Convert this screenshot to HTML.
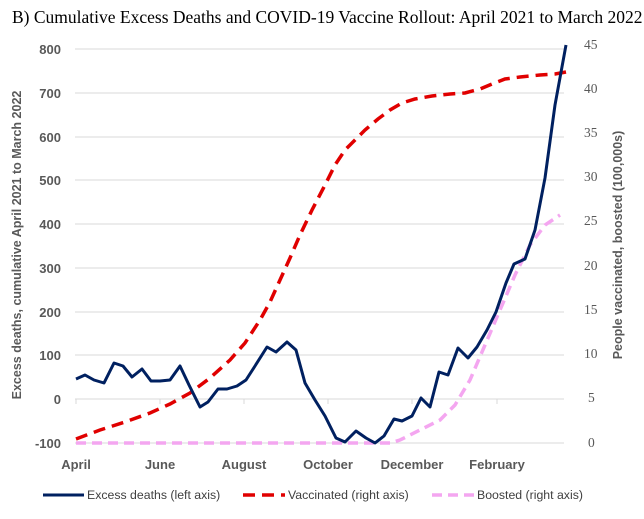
<!DOCTYPE html>
<html><head><style>
body{margin:0;background:#fff;}
svg{display:block;font-family:"Liberation Sans",sans-serif;}
</style></head><body>
<svg width="644" height="519" viewBox="0 0 644 519">
<text x="12" y="23" font-family="Liberation Serif" font-size="17.5" fill="#000">B)  Cumulative Excess Deaths and COVID-19 Vaccine Rollout: April 2021 to March 2022</text>
<g stroke="#d9d9d9" stroke-width="1">
<line x1="75" y1="49" x2="564" y2="49"/><line x1="75" y1="93" x2="564" y2="93"/>
<line x1="75" y1="137" x2="564" y2="137"/><line x1="75" y1="180" x2="564" y2="180"/>
<line x1="75" y1="224" x2="564" y2="224"/><line x1="75" y1="268" x2="564" y2="268"/>
<line x1="75" y1="312" x2="564" y2="312"/><line x1="75" y1="355" x2="564" y2="355"/>
<line x1="75" y1="399" x2="564" y2="399"/><line x1="75" y1="443" x2="564" y2="443"/>
<line x1="76" y1="399" x2="76" y2="404"/><line x1="160" y1="399" x2="160" y2="404"/><line x1="244" y1="399" x2="244" y2="404"/><line x1="328" y1="399" x2="328" y2="404"/><line x1="412" y1="399" x2="412" y2="404"/><line x1="497" y1="399" x2="497" y2="404"/>
</g>
<g font-size="13" font-weight="bold" fill="#595959" text-anchor="end">
<text x="61" y="54">800</text><text x="61" y="98">700</text><text x="61" y="142">600</text><text x="61" y="185">500</text><text x="61" y="229">400</text><text x="61" y="273">300</text><text x="61" y="317">200</text><text x="61" y="360">100</text><text x="61" y="404">0</text><text x="61" y="448">-100</text>
</g>
<g font-size="13.5" fill="#595959" text-anchor="start" font-family="Liberation Serif">
<text x="584" y="49">45</text><text x="584" y="93">40</text><text x="584" y="137">35</text><text x="584" y="181">30</text><text x="584" y="225">25</text><text x="584" y="270">20</text><text x="584" y="314">15</text><text x="584" y="358">10</text><text x="588" y="402">5</text><text x="588" y="447">0</text>
</g>
<g font-size="13" font-weight="bold" fill="#595959" text-anchor="middle">
<text x="76" y="469">April</text><text x="160" y="469">June</text><text x="244" y="469">August</text><text x="328" y="469">October</text><text x="412" y="469">December</text><text x="497" y="469">February</text>
</g>
<text transform="translate(21,245) rotate(-90)" font-size="12.5" font-weight="bold" fill="#595959" text-anchor="middle">Excess deaths, cumulative April 2021 to March 2022</text>
<text transform="translate(622,245) rotate(-90)" font-size="12.5" font-weight="bold" fill="#595959" text-anchor="middle">People vaccinated, boosted (100,000s)</text>
<polyline fill="none" stroke="#f4a6f0" stroke-width="3.5" stroke-dasharray="10,6" points="76,443 390,443 400,440 420,430 440,420 455,405 470,380 485,345 500,310 515,275 530,245 545,225 560,215"/>
<polyline fill="none" stroke="#e00000" stroke-width="3.5" stroke-dasharray="12,7" points="76,439 100,430 125,422 150,413 170,404 190,393 210,378 230,360 245,343 260,320 270,302 280,280 290,258 300,235 312,210 325,185 335,165 345,150 355,140 365,130 378,119 390,110 402,103 415,99 432,96 450,94 465,93 480,89 492,84 505,79 520,77 540,75 555,74 566,72"/>
<polyline fill="none" stroke="#002060" stroke-width="3" stroke-linejoin="round" points="76,379 85,375 94,380 104,383 114,363 123,366 132,377 142,369 151,381 160,381 170,380 180,366 189,385 200,407 208,402 218,389 227,389 237,386 246,380 255,366 267,347 276,352 287,342 296,350 305,383 315,400 325,416 336,438 345,442 356,431 366,438 375,443 384,436 394,419 402,421 412,416 421,398 430,407 439,372 448,375 458,348 468,358 477,347 487,330 496,312 506,283 514,264 525,259 535,230 545,178 555,105 566,45"/>
<line x1="43" y1="495" x2="84" y2="495" stroke="#002060" stroke-width="3"/>
<text x="87" y="499" font-size="12.3" fill="#404040">Excess deaths (left axis)</text>
<line x1="243" y1="495" x2="285" y2="495" stroke="#e00000" stroke-width="3.5" stroke-dasharray="12,7"/>
<text x="288" y="499" font-size="12.3" fill="#404040">Vaccinated (right axis)</text>
<line x1="432" y1="495" x2="474" y2="495" stroke="#f4a6f0" stroke-width="3.5" stroke-dasharray="10,6"/>
<text x="477" y="499" font-size="12.3" fill="#404040">Boosted (right axis)</text>
</svg>
</body></html>
